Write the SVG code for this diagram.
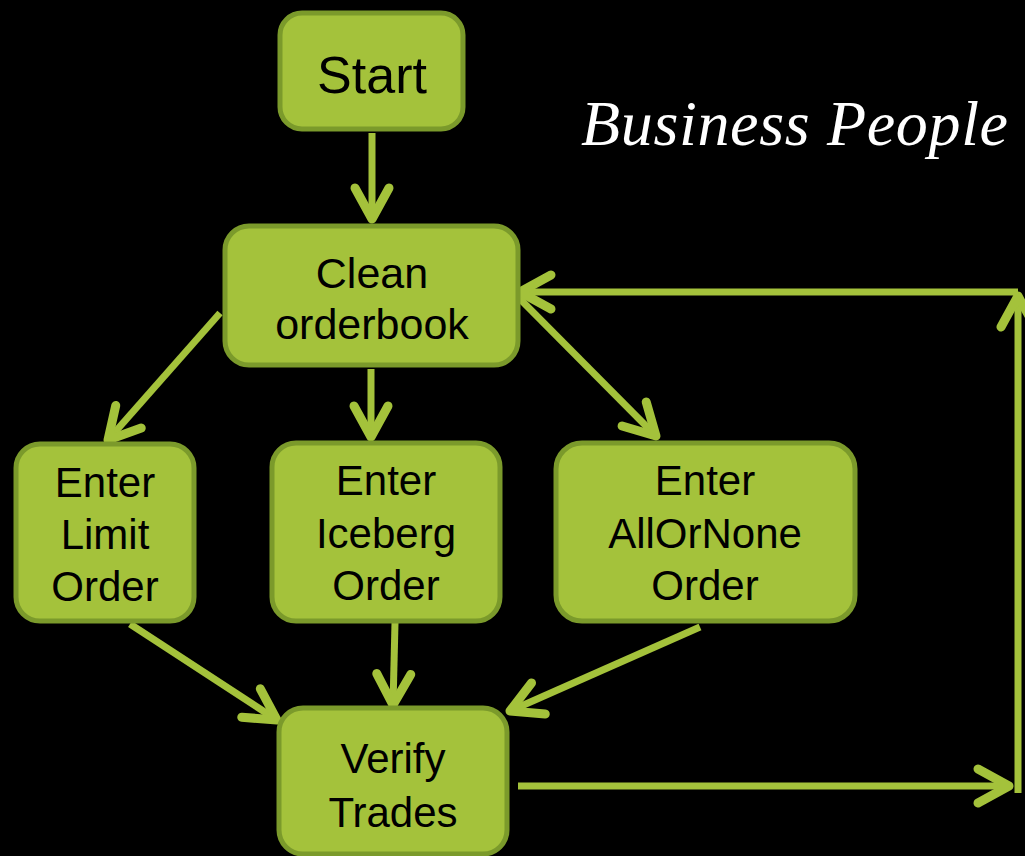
<svg xmlns="http://www.w3.org/2000/svg" width="1025" height="856" viewBox="0 0 1025 856">
  <style>
    .box { fill: #a4c23b; stroke: #7b9a2b; stroke-width: 5; }
    .lbl { font-family: "Liberation Sans", Arial, sans-serif; font-size: 42px; fill: #000; text-anchor: middle; }
    .conn { stroke: #a4c23b; stroke-width: 7; fill: none; marker-end: url(#ah); }
    .title { font-family: "Liberation Serif", "Times New Roman", serif; font-style: italic; font-size: 64px; fill: #fff; }
  </style>
  <defs>
    <marker id="ah" markerUnits="userSpaceOnUse" markerWidth="50" markerHeight="50" viewBox="-45 -25 50 50" refX="0" refY="0" orient="auto" overflow="visible">
      <path d="M -31 -17 L 0 0 L -31 17" fill="none" stroke="#a4c23b" stroke-width="9" stroke-linecap="round" stroke-linejoin="round"/>
    </marker>
  </defs>
  <rect width="1025" height="856" fill="#000"/>

  <text class="title" x="581" y="145" textLength="427" lengthAdjust="spacing">Business People</text>

  <g id="connectors">
    <line class="conn" x1="372" y1="133" x2="372" y2="219"/>
    <line class="conn" x1="220" y1="313" x2="108" y2="440"/>
    <line class="conn" x1="371" y1="369" x2="371" y2="437"/>
    <line class="conn" x1="518" y1="297" x2="656" y2="436"/>
    <line class="conn" x1="130" y1="624" x2="277" y2="720"/>
    <line class="conn" x1="395" y1="623" x2="393" y2="705"/>
    <line class="conn" x1="700" y1="627" x2="510" y2="711"/>
    <line class="conn" x1="518" y1="786" x2="1009" y2="786"/>
    <line class="conn" x1="1018" y1="793" x2="1018" y2="296"/>
    <line class="conn" x1="1018" y1="292" x2="520" y2="292"/>
  </g>

  <g id="start">
    <rect class="box" x="280" y="13" width="183" height="116" rx="22"/>
    <text class="lbl" x="372" y="93" style="font-size:52px">Start</text>
  </g>
  <g id="clean">
    <rect class="box" x="225" y="226" width="293" height="139" rx="24"/>
    <text class="lbl" x="372" y="288" style="font-size:43px">Clean</text>
    <text class="lbl" x="372" y="339" style="font-size:43px">orderbook</text>
  </g>
  <g id="limit">
    <rect class="box" x="16" y="444" width="178" height="177" rx="24"/>
    <text class="lbl" x="105" y="497">Enter</text>
    <text class="lbl" x="105" y="549">Limit</text>
    <text class="lbl" x="105" y="601">Order</text>
  </g>
  <g id="iceberg">
    <rect class="box" x="272" y="443" width="228" height="178" rx="24"/>
    <text class="lbl" x="386" y="495">Enter</text>
    <text class="lbl" x="386" y="548">Iceberg</text>
    <text class="lbl" x="386" y="600">Order</text>
  </g>
  <g id="allornone">
    <rect class="box" x="556" y="443" width="299" height="178" rx="26"/>
    <text class="lbl" x="705" y="495">Enter</text>
    <text class="lbl" x="705" y="548">AllOrNone</text>
    <text class="lbl" x="705" y="600">Order</text>
  </g>
  <g id="verify">
    <rect class="box" x="279" y="708" width="228" height="146" rx="24"/>
    <text class="lbl" x="393" y="773">Verify</text>
    <text class="lbl" x="393" y="827">Trades</text>
  </g>
</svg>
